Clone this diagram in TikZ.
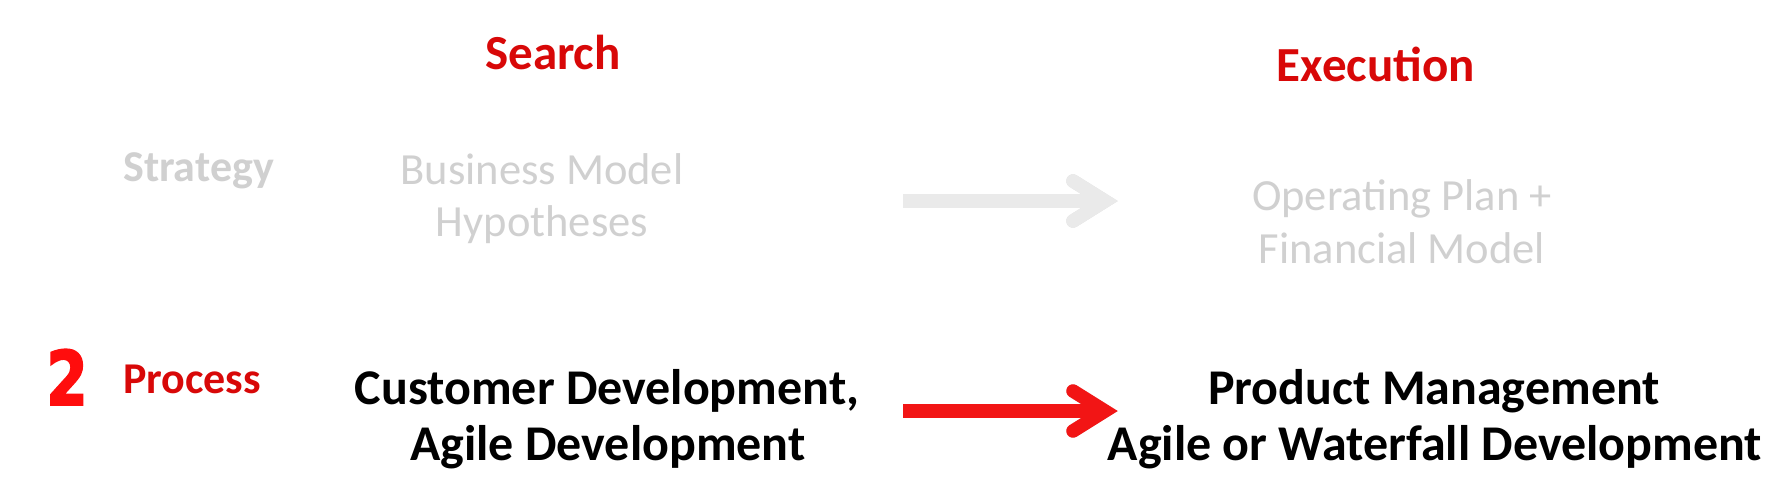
\documentclass[tikz,border=0pt]{standalone}
\usepackage{fontspec}
\setmainfont{Carlito}
\newfontfamily\digitfont[FakeBold=2.5]{DejaVu Sans Bold}
\definecolor{headred}{HTML}{D80808}
\definecolor{brightred}{HTML}{FF0D0D}
\definecolor{arrowred}{HTML}{F21515}
\definecolor{fadegray}{HTML}{D0D0D0}
\definecolor{arrowgray}{HTML}{EAEAEA}
\tikzset{
  txt/.style={inner sep=0pt, anchor=base},
  heading/.style={txt, text=headred, font=\fontsize{49}{54}\selectfont\bfseries},
  rowlabel/.style={txt, anchor=base west, font=\fontsize{44}{50}\selectfont\bfseries},
  fadetext/.style={txt, text=fadegray, font=\fontsize{44.5}{50}\selectfont},
  boldtext/.style={txt, text=black, font=\fontsize{50}{55}\selectfont\bfseries},
  shaftline/.style={line width=14pt, line cap=butt},
  headline/.style={line width=13.5pt, line cap=round, line join=miter},
  shadowed/.style={draw=black, opacity=0.13, shift={(1.5,2.5)}}
}
\begin{document}
\begin{tikzpicture}[x=1pt,y=-1pt]
\useasboundingbox (0,0) rectangle (1780,500);
\fill[white] (0,0) rectangle (1780,500);
% headings
\node[heading] (search) at (553,70) {Search};
\node[heading] (exec) at (1376,82) {Execution};
% strategy row
\node[rowlabel, text=fadegray] (strategy) at (123,182) {Strategy};
\node[fadetext] (bm1) at (542,184) {Business Model};
\node[fadetext] (bm2) at (542,236) {Hypotheses};
\node[fadetext] (op1) at (1402,210) {Operating Plan +};
\node[fadetext] (op2) at (1402,263) {Financial Model};
% process row
\node[txt, anchor=base west, text=brightred, font=\digitfont\fontsize{75}{80}\selectfont, xscale=0.8] (two) at (46,405) {2};
\node[rowlabel, text=headred] (process) at (123,393) {Process};
\node[boldtext] (cd1) at (607,404) {Customer Development,};
\node[boldtext] (cd2) at (608,460) {Agile Development};
\node[boldtext] (pm1) at (1434,404) {Product Management};
\node[boldtext] (pm2) at (1435,460) {Agile or Waterfall Development};
% arrows
\coordinate (gs) at (903,201);
\coordinate (ge) at (1105,201);
\coordinate (rs) at (903,411);
\coordinate (re) at (1105,411);
% gray arrow
\draw[shaftline, shadowed] (gs) -- (ge);
\draw[headline, shadowed] (ge) ++(-32,-20) -- (ge) -- ++(-32,20);
\draw[shaftline, draw=arrowgray] (gs) -- (ge);
\draw[headline, draw=arrowgray] (ge) ++(-32,-20) -- (ge) -- ++(-32,20);
% red arrow
\draw[shaftline, shadowed] (rs) -- (re);
\draw[headline, shadowed] (re) ++(-32,-20) -- (re) -- ++(-32,20);
\draw[shaftline, draw=arrowred] (rs) -- (re);
\draw[headline, draw=arrowred] (re) ++(-32,-20) -- (re) -- ++(-32,20);
\end{tikzpicture}
\end{document}
